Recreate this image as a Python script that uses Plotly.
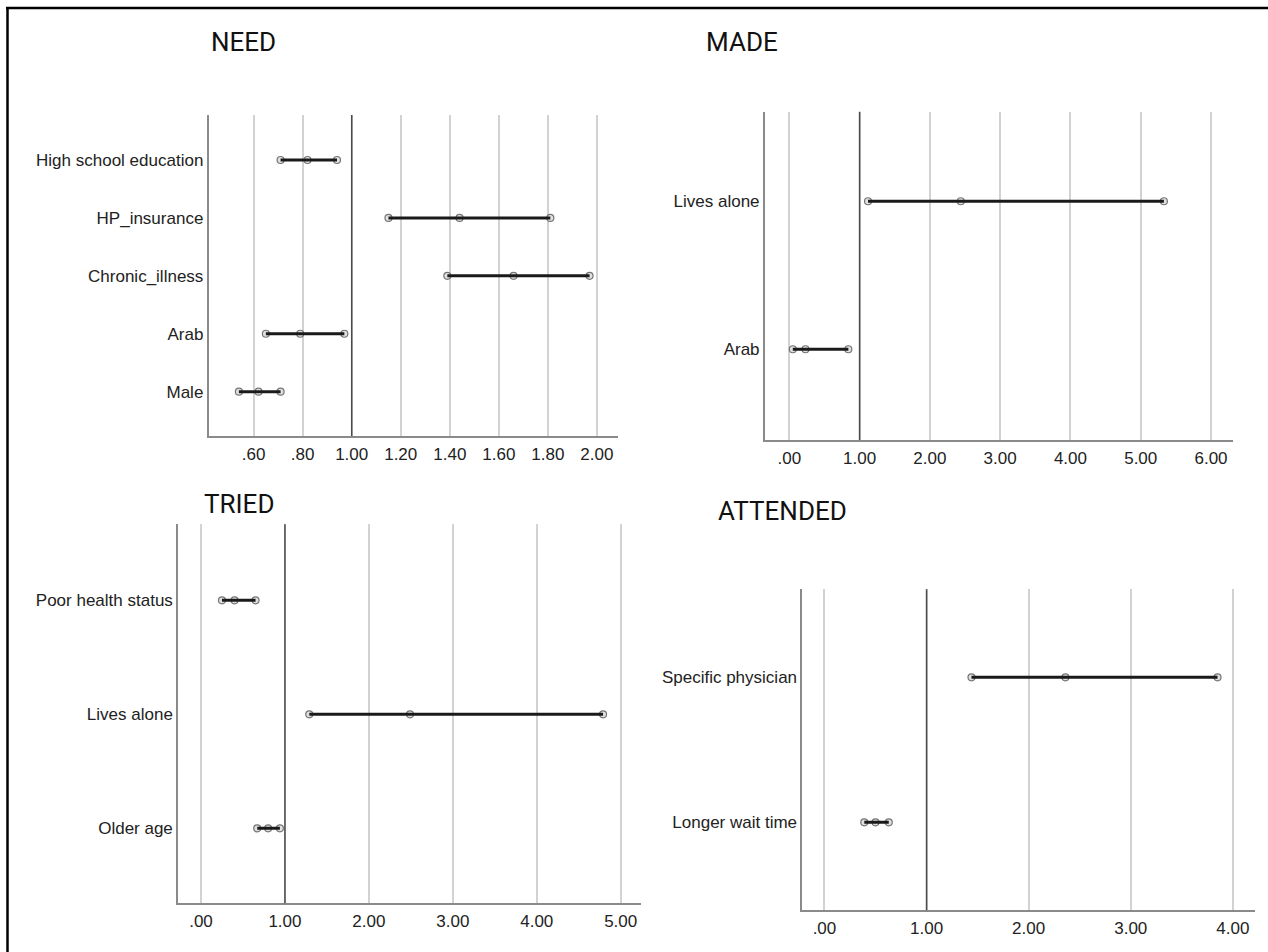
import plotly.graph_objects as go

W, H = 1268, 952

# ---------------- data ----------------
need_labels = ["Male", "Arab", "Chronic_illness", "HP_insurance", "High school education"]
need_or = [0.62, 0.79, 1.66, 1.44, 0.82]
need_lo = [0.54, 0.65, 1.39, 1.15, 0.71]
need_hi = [0.71, 0.97, 1.97, 1.81, 0.94]
need_ticks = [0.6, 0.8, 1.0, 1.2, 1.4, 1.6, 1.8, 2.0]
need_ticktext = [".60", ".80", "1.00", "1.20", "1.40", "1.60", "1.80", "2.00"]

made_labels = ["Arab", "Lives alone"]
made_or = [0.23, 2.44]
made_lo = [0.05, 1.12]
made_hi = [0.84, 5.33]
made_ticks = [0, 1, 2, 3, 4, 5, 6]
made_ticktext = [".00", "1.00", "2.00", "3.00", "4.00", "5.00", "6.00"]

tried_labels = ["Older age", "Lives alone", "Poor health status"]
tried_or = [0.80, 2.49, 0.40]
tried_lo = [0.67, 1.29, 0.25]
tried_hi = [0.94, 4.79, 0.65]
tried_ticks = [0, 1, 2, 3, 4, 5]
tried_ticktext = [".00", "1.00", "2.00", "3.00", "4.00", "5.00"]

att_labels = ["Longer wait time", "Specific physician"]
att_or = [0.50, 2.36]
att_lo = [0.39, 1.44]
att_hi = [0.63, 3.85]
att_ticks = [0, 1, 2, 3, 4]
att_ticktext = [".00", "1.00", "2.00", "3.00", "4.00"]

REF_VALUE = 1.0

# ---------------- layout (pixel boxes) ----------------
panels = [
    dict(title="NEED", labels=need_labels, orv=need_or, lo=need_lo, hi=need_hi,
         ticks=need_ticks, ticktext=need_ticktext,
         box=(208.5, 618, 115, 436), xr=[0.416, 2.086], yr=[-0.765, 4.777],
         tpos=(209, 42.5)),
    dict(title="MADE", labels=made_labels, orv=made_or, lo=made_lo, hi=made_hi,
         ticks=made_ticks, ticktext=made_ticktext,
         box=(764.7, 1233, 111.7, 440), xr=[-0.35, 6.313], yr=[-0.613, 1.605],
         tpos=(703.5, 42.5)),
    dict(title="TRIED", labels=tried_labels, orv=tried_or, lo=tried_lo, hi=tried_hi,
         ticks=tried_ticks, ticktext=tried_ticktext,
         box=(178, 641, 524.3, 903.3), xr=[-0.274, 5.242], yr=[-0.658, 2.667],
         tpos=(202, 503.5)),
    dict(title="ATTENDED", labels=att_labels, orv=att_or, lo=att_lo, hi=att_hi,
         ticks=att_ticks, ticktext=att_ticktext,
         box=(802.2, 1254.7, 589.3, 910.3), xr=[-0.218, 4.214], yr=[-0.607, 1.607],
         tpos=(716, 510.5)),
]

TICK_FONT = dict(family="Liberation Sans, Arial, sans-serif", size=17, color="#222222")
TITLE_FONT = dict(family="Roboto, sans-serif", size=26, color="#111111")
GRID = "#d2d2d2"
AXIS = "#8a8a8a"

fig = go.Figure()
layout = dict(width=W, height=H, margin=dict(l=0, r=0, t=0, b=0),
              paper_bgcolor="white", plot_bgcolor="white", showlegend=False)
shapes = []
annotations = []

for i, p in enumerate(panels, start=1):
    xa = "x" if i == 1 else f"x{i}"
    ya = "y" if i == 1 else f"y{i}"
    xkey = "xaxis" if i == 1 else f"xaxis{i}"
    ykey = "yaxis" if i == 1 else f"yaxis{i}"
    x0, x1, top, bot = p["box"]
    idx = list(range(len(p["labels"])))

    # markers (lower, estimate, upper)
    mx, my = [], []
    for k in idx:
        mx += [p["lo"][k], p["orv"][k], p["hi"][k]]
        my += [k, k, k]
    fig.add_trace(go.Scatter(x=mx, y=my, mode="markers", xaxis=xa, yaxis=ya,
                             marker=dict(symbol="circle", size=7, color="#e0e0e0",
                                         line=dict(color="#757575", width=1.2)),
                             hoverinfo="skip"))
    # CI lines
    lx, ly = [], []
    for k in idx:
        lx += [p["lo"][k], p["hi"][k], None]
        ly += [k, k, None]
    fig.add_trace(go.Scatter(x=lx, y=ly, mode="lines", xaxis=xa, yaxis=ya,
                             line=dict(color="#1a1a1a", width=3), hoverinfo="skip"))

    layout[xkey] = dict(domain=[x0 / W, x1 / W], range=p["xr"], anchor=ya,
                        tickvals=p["ticks"], ticktext=p["ticktext"],
                        showgrid=True, gridcolor=GRID, gridwidth=1.5,
                        zeroline=False, showline=True, linecolor=AXIS, linewidth=1.5,
                        ticks="", tickfont=TICK_FONT, ticklabelstandoff=2,
                        fixedrange=True)
    layout[ykey] = dict(domain=[1 - bot / H, 1 - top / H], range=p["yr"], anchor=xa,
                        tickvals=idx, ticktext=p["labels"],
                        showgrid=False, zeroline=False, showline=True,
                        linecolor=AXIS, linewidth=1.5, ticks="",
                        tickfont=TICK_FONT, fixedrange=True)

    # reference line at OR = 1
    shapes.append(dict(type="line", xref=xa, yref=f"{ya} domain",
                       x0=REF_VALUE, x1=REF_VALUE, y0=0, y1=1,
                       line=dict(color="#4a4a4a", width=1.5), layer="above"))

    tx, ty = p["tpos"]
    annotations.append(dict(text=p["title"], xref="paper", yref="paper",
                            x=tx / W, y=1 - ty / H, xanchor="left", yanchor="middle",
                            showarrow=False, font=TITLE_FONT))

# outer frame (top and left edges)
shapes.append(dict(type="line", xref="paper", yref="paper", x0=6 / W, x1=1.0,
                   y0=1 - 8 / H, y1=1 - 8 / H, line=dict(color="black", width=2.5)))
shapes.append(dict(type="line", xref="paper", yref="paper", x0=7.5 / W, x1=7.5 / W,
                   y0=0, y1=1 - 7 / H, line=dict(color="black", width=2.5)))

layout["shapes"] = shapes
layout["annotations"] = annotations
fig.update_layout(**layout)
fig.write_html("out.html", config={"displayModeBar": False},
               post_script="document.body.style.margin='0';document.body.style.padding='0';")
